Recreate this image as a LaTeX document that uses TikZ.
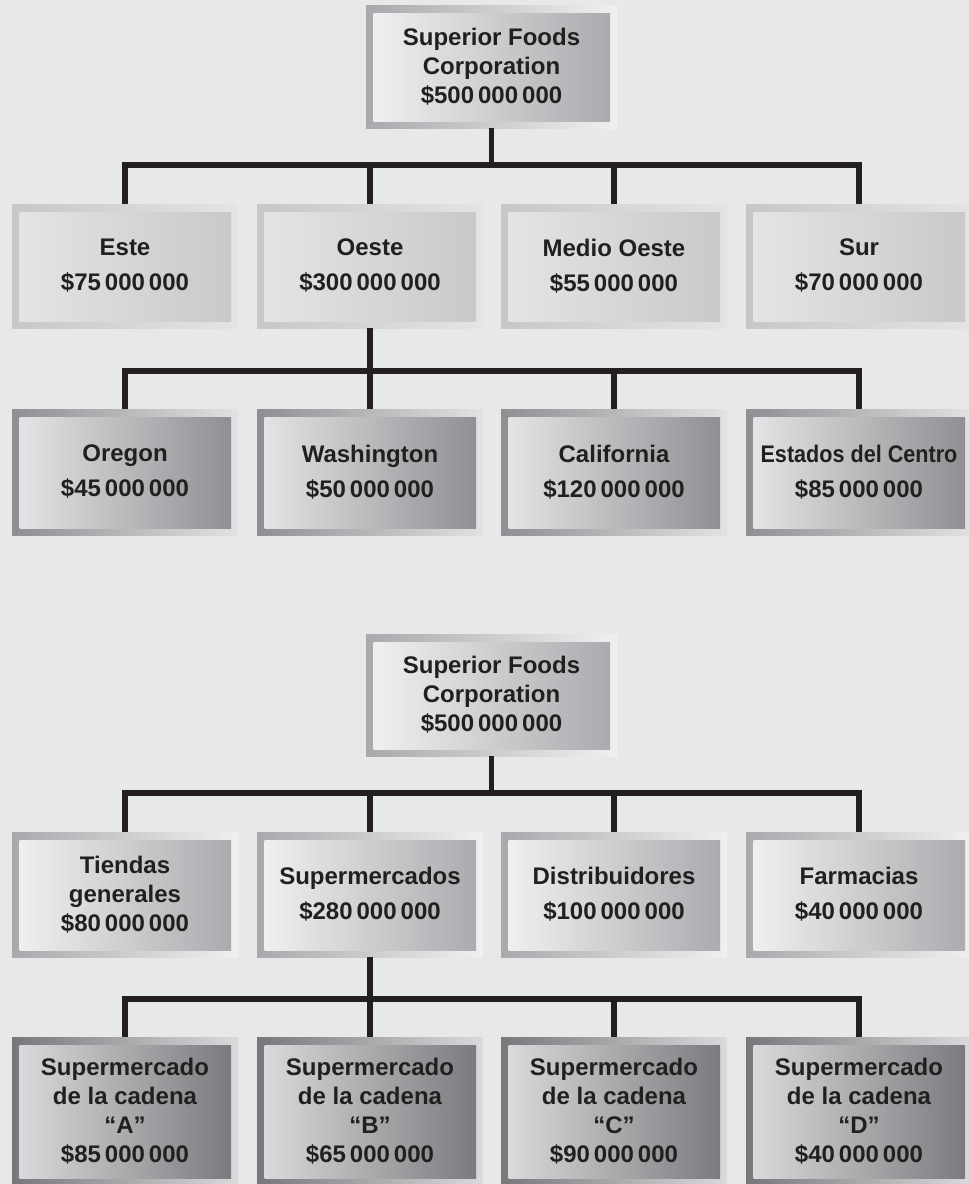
\documentclass[tikz,border=0pt]{standalone}
\usepackage{fontspec}
\newfontfamily\orgfamily{Liberation Sans}
\definecolor{bgc}{RGB}{231,232,232}
\definecolor{ink}{HTML}{231F20}
% level colours: outer left, outer right, inner left, inner right
\definecolor{aOL}{HTML}{A8A9AC}\definecolor{aOR}{HTML}{EFF0F0}
\definecolor{aIL}{HTML}{F1F2F2}\definecolor{aIR}{HTML}{A7A9AC}
\definecolor{bOL}{HTML}{C6C7C9}\definecolor{bOR}{HTML}{E3E4E5}
\definecolor{bIL}{HTML}{E4E5E6}\definecolor{bIR}{HTML}{C7C8CA}
\definecolor{cOL}{HTML}{8E8F92}\definecolor{cOR}{HTML}{E1E2E3}
\definecolor{cIL}{HTML}{E6E7E8}\definecolor{cIR}{HTML}{8C8D90}
\definecolor{dOL}{HTML}{77787B}\definecolor{dOR}{HTML}{D9DADB}
\definecolor{dIL}{HTML}{DCDDDE}\definecolor{dIR}{HTML}{77787B}
\tikzset{
  orgbox/.style n args={4}{rectangle, inner sep=0pt, outer sep=0pt,
    minimum width=226, minimum height=124, align=center, text=ink,
    font=\orgfamily\bfseries\fontsize{24}{29}\selectfont,
    left color=#1, right color=#2,
    path picture={\shade[left color=#3, right color=#4]
      ([shift={(7.5pt,-8pt)}]path picture bounding box.north west) rectangle
      ([shift={(-7pt,6.5pt)}]path picture bounding box.south east);}},
  lvA/.style={orgbox={aOL}{aOR}{aIL}{aIR}},
  lvB/.style={orgbox={bOL}{bOR}{bIL}{bIR}},
  lvC/.style={orgbox={cOL}{cOR}{cIL}{cIR}},
  lvD/.style={orgbox={dOL}{dOR}{dIL}{dIR}},
  twoline/.style={font=\orgfamily\bfseries\fontsize{24}{35}\selectfont},
  conn/.style={draw=ink, line width=5.2pt},
}
\begin{document}
\begin{tikzpicture}[x=1pt,y=-1pt]
\useasboundingbox (0,0) rectangle (969,1184);
\fill[bgc] (0,0) rectangle (969,1184);

% ---------- chart 1 ----------
\node[lvA, minimum width=251, minimum height=123] (top1) at (491.5,66.5)
  {Superior Foods\\Corporation\\\$500\,000\,000};
\node[lvB, twoline] (e1) at (125,266) {Este\\\$75\,000\,000};
\node[lvB, twoline] (e2) at (370,266) {Oeste\\\$300\,000\,000};
\node[lvB, twoline] (e3) at (614,266) {Medio Oeste\\\$55\,000\,000};
\node[lvB, twoline] (e4) at (859,266) {Sur\\\$70\,000\,000};
\node[lvC, twoline, minimum height=126] (o1) at (125,472) {Oregon\\\$45\,000\,000};
\node[lvC, twoline, minimum height=126] (o2) at (370,472) {Washington\\\$50\,000\,000};
\node[lvC, twoline, minimum height=126] (o3) at (614,472) {California\\\$120\,000\,000};
\node[lvC, twoline, minimum height=126] (o4) at (859,472)
  {\scalebox{0.9}[1]{Estados del Centro}\\\$85\,000\,000};

\coordinate (h1) at (491.5,165);
\coordinate (h2) at (370,371);
\draw[conn] (e1.north) |- (h1) -| (e4.north);
\draw[conn] (top1.south) -- (h1);
\draw[conn] (e2.north) -- (e2.north |- h1);
\draw[conn] (e3.north) -- (e3.north |- h1);
\draw[conn] (o1.north) |- (h2) -| (o4.north);
\draw[conn] (e2.south) -- (o2.north);
\draw[conn] (o3.north) -- (o3.north |- h2);

% ---------- chart 2 ----------
\node[lvA, minimum width=251, minimum height=122] (top2) at (491.5,695)
  {Superior Foods\\Corporation\\\$500\,000\,000};
\node[lvA, minimum height=125] (t1) at (125,894.5) {Tiendas\\generales\\\$80\,000\,000};
\node[lvA, twoline, minimum height=125] (t2) at (370,894.5) {Supermercados\\\$280\,000\,000};
\node[lvA, twoline, minimum height=125] (t3) at (614,894.5) {Distribuidores\\\$100\,000\,000};
\node[lvA, twoline, minimum height=125] (t4) at (859,894.5) {Farmacias\\\$40\,000\,000};
\node[lvD, minimum height=148] (s1) at (125,1111)
  {Supermercado\\de la cadena\\“A”\\\$85\,000\,000};
\node[lvD, minimum height=148] (s2) at (370,1111)
  {Supermercado\\de la cadena\\“B”\\\$65\,000\,000};
\node[lvD, minimum height=148] (s3) at (614,1111)
  {Supermercado\\de la cadena\\“C”\\\$90\,000\,000};
\node[lvD, minimum height=148] (s4) at (859,1111)
  {Supermercado\\de la cadena\\“D”\\\$40\,000\,000};

\coordinate (h3) at (491.5,793);
\coordinate (h4) at (370,999);
\draw[conn] (t1.north) |- (h3) -| (t4.north);
\draw[conn] (top2.south) -- (h3);
\draw[conn] (t2.north) -- (t2.north |- h3);
\draw[conn] (t3.north) -- (t3.north |- h3);
\draw[conn] (s1.north) |- (h4) -| (s4.north);
\draw[conn] (t2.south) -- (s2.north);
\draw[conn] (s3.north) -- (s3.north |- h4);
\end{tikzpicture}
\end{document}
